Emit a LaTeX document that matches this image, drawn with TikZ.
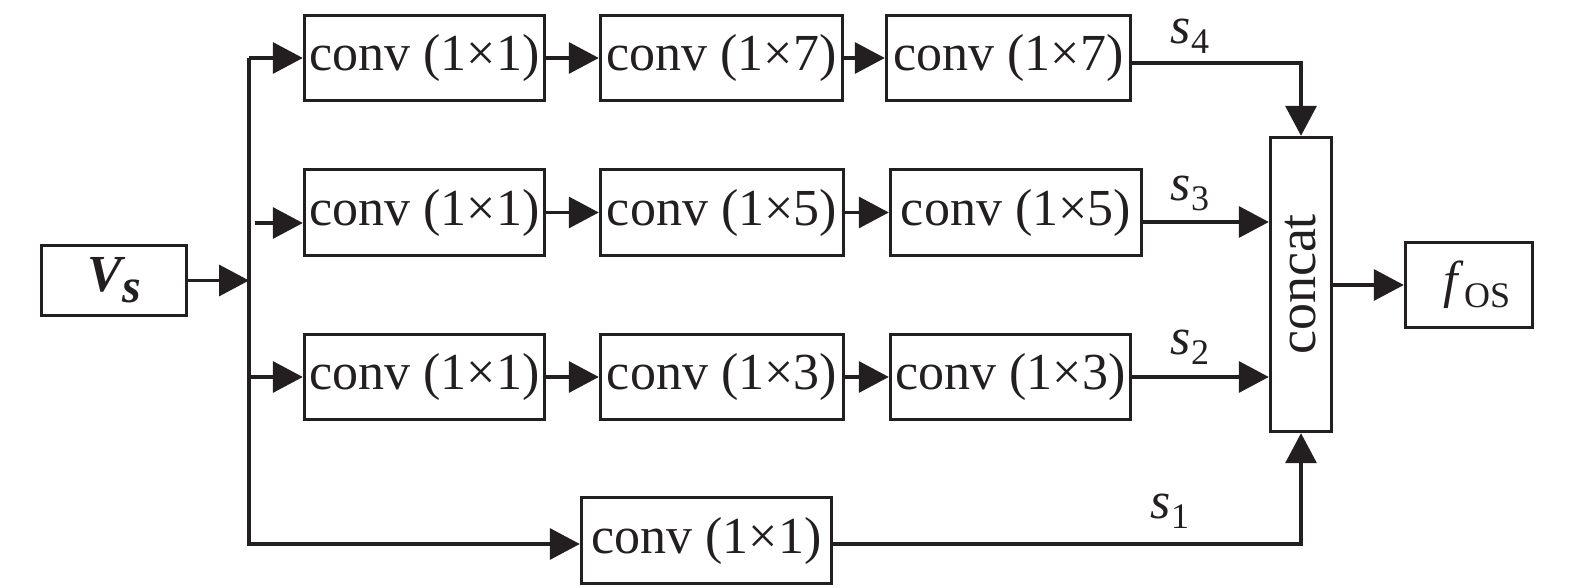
\documentclass[tikz,border=0pt]{standalone}
\usepackage{fontspec}
\setmainfont{Liberation Serif}
\usetikzlibrary{arrows.meta}
\definecolor{ink}{RGB}{35,31,32}
\begin{document}
\begin{tikzpicture}[x=0.5pt,y=-0.5pt,
  box/.style={draw=ink, line width=1.7pt, inner sep=0pt, text=ink,
    font=\fontsize{26}{26}\selectfont, minimum height=42.5pt, minimum width=120pt},
  ln/.style={draw=ink, line width=1.7pt},
  arr/.style={ln, -{Triangle[length=15pt,width=15.5pt]}},
  lab/.style={inner sep=0pt, text=ink, font=\fontsize{26}{26}\selectfont}]
\useasboundingbox (0,0) rectangle (1575,587);
% input
\node[box, minimum width=72.5pt, minimum height=35pt] (vs) at (114,280.5)
  {\bfseries\itshape V\raisebox{-5.5pt}{\fontsize{24}{24}\selectfont s}};
% row 1
\node[box] (a11) at (424.5,58) {conv (1×1)};
\node[box, minimum width=121pt] (a12) at (721.5,58) {conv (1×7)};
\node[box, minimum width=122pt] (a13) at (1008.5,58) {conv (1×7)};
% row 2
\node[box, minimum height=43pt] (a21) at (424.5,212.5) {conv (1×1)};
\node[box, minimum height=43pt, minimum width=121.5pt] (a22) at (722,212.5) {conv (1×5)};
\node[box, minimum height=43pt, minimum width=125.5pt] (a23) at (1016,212.5) {conv (1×5)};
% row 3
\node[box] (a31) at (424.5,377) {conv (1×1)};
\node[box, minimum width=121.5pt] (a32) at (722,377) {conv (1×3)};
\node[box] (a33) at (1010.5,377) {conv (1×3)};
% row 4
\node[box, minimum height=43pt, minimum width=125pt] (a4) at (706.5,540.5) {conv (1×1)};
% concat and output
\node[box, minimum width=30.5pt, minimum height=147pt] (cc) at (1301,284.5) {\rotatebox{90}{\fontsize{27}{27}\selectfont concat}};
\node[box, minimum width=63.5pt] (fos) at (1469,285)
  {\hspace{8pt}\textit{f}\raisebox{-5pt}{\fontsize{18}{18}\selectfont OS}};
% helper coordinates
\coordinate (top) at (249,58);
\coordinate (bot) at (249,544);
\coordinate (r2) at (255,223);
\coordinate (y63) at (0,63);
\coordinate (y222) at (0,222);
% input connectors
\draw[arr] (vs.east) -- (vs.east -| top);
\draw[arr] (top) -- (a11.west);
\draw[arr] (top) -- (bot) -- (a4.west |- bot);
\draw[arr] (r2) -- (a21.west |- r2);
\draw[arr] (a31.west -| top) -- (a31.west);
% chains
\draw[arr] (a11) -- (a12);
\draw[arr] (a12) -- (a13);
\draw[arr] (a21) -- (a22);
\draw[arr] (a22) -- (a23);
\draw[arr] (a31) -- (a32);
\draw[arr] (a32) -- (a33);
% outputs to concat
\draw[arr] (a13.east |- y63) -| (cc.north);
\draw[arr] (a23.east |- y222) -- (cc.west |- y222);
\draw[arr] (a33.east) -- (cc.west |- a33.east);
\draw[arr] (a4.east |- bot) -| (cc.south);
\draw[arr] (cc.east |- fos.west) -- (fos.west);
% labels
\node[lab] (s4) at (1190,36) {\textit{s}\raisebox{-5pt}{\fontsize{18}{18}\selectfont 4}};
\node[lab] (s3) at (1190,193) {\textit{s}\raisebox{-5pt}{\fontsize{18}{18}\selectfont 3}};
\node[lab] (s2) at (1190,347) {\textit{s}\raisebox{-5pt}{\fontsize{18}{18}\selectfont 2}};
\node[lab] (s1) at (1170,511) {\textit{s}\raisebox{-5pt}{\fontsize{18}{18}\selectfont 1}};
\end{tikzpicture}
\end{document}
